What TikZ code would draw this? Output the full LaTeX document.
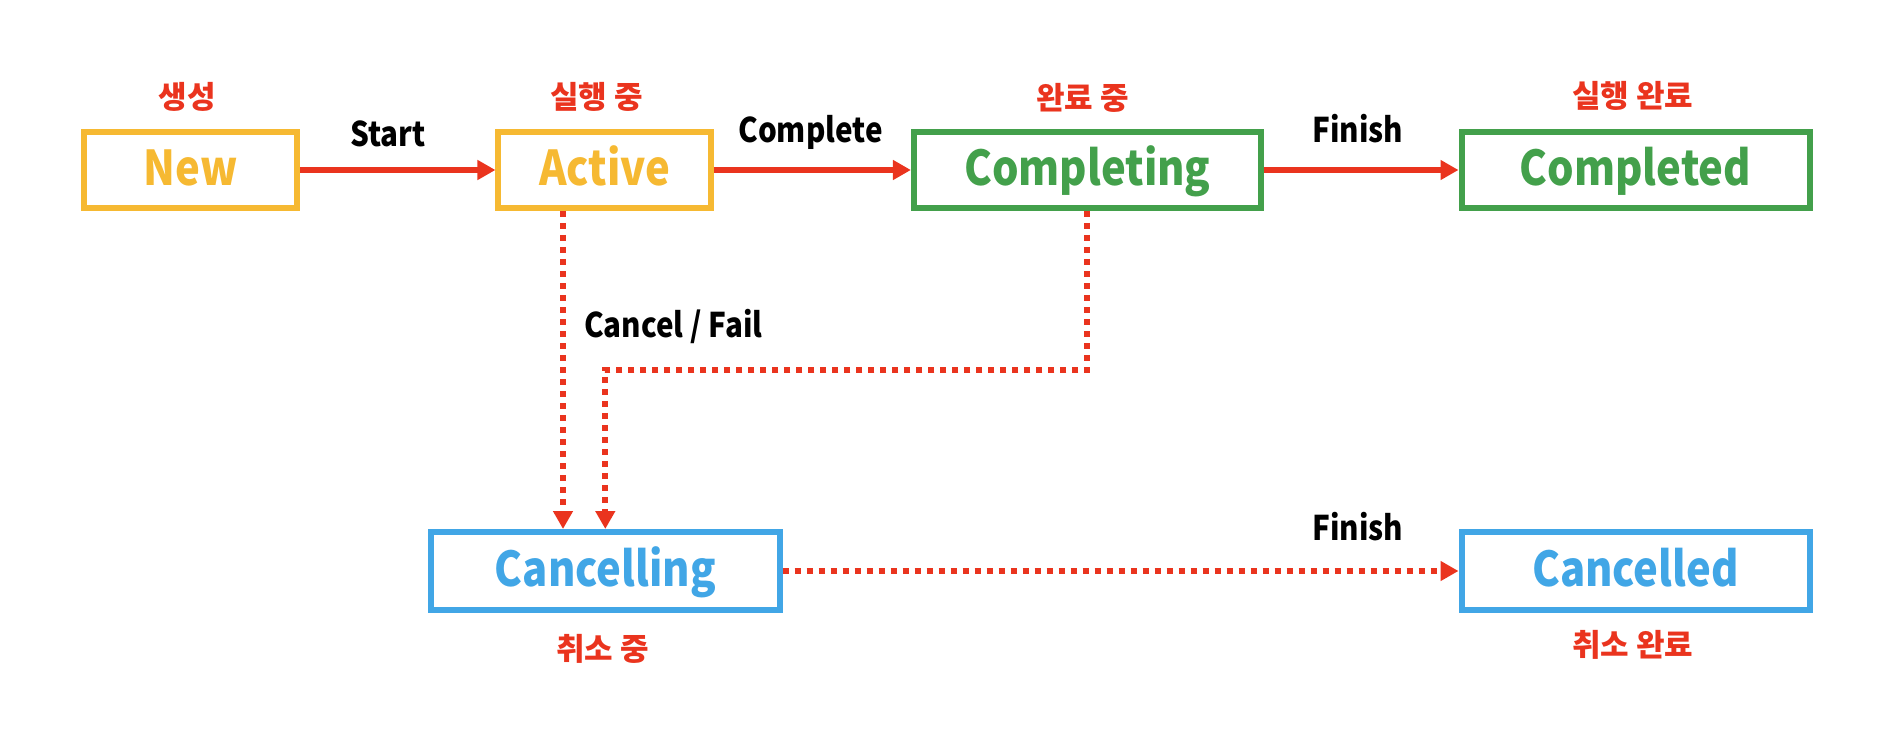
\documentclass[tikz,border=0pt]{standalone}
\usepackage{fontspec}
\setmainfont{Noto Sans CJK KR}
\newfontfamily\latfont{Noto Sans CJK KR}[FakeStretch=0.87]
\usetikzlibrary{arrows.meta}
\definecolor{cyel}{RGB}{246,185,50}
\definecolor{cgrn}{RGB}{67,160,75}
\definecolor{cblu}{RGB}{65,166,230}
\definecolor{cred}{RGB}{234,52,30}
\begin{document}
\begin{tikzpicture}[x=1pt,y=-1pt,
  state/.style={draw, line width=6pt, inner sep=0pt, font=\latfont\bfseries\fontsize{48}{56}\selectfont, text height=31.7pt, text depth=0pt, align=center},
  ko/.style={anchor=base, text=cred, font=\bfseries\fontsize{31}{36}\selectfont, inner sep=0pt},
  lab/.style={anchor=base, font=\latfont\bfseries\fontsize{34}{40}\selectfont, inner sep=0pt},
  solidarr/.style={cred, line width=6pt, -{Triangle[length=18pt,width=19pt]}},
  dotarr/.style={cred, line width=6pt, dash pattern=on 6pt off 6pt, -{Triangle[length=18pt,width=19pt]}},
]
\useasboundingbox (0,0) rectangle (1904,730);
\node[state, cyel, minimum width=213pt, minimum height=76pt] (new) at (190.5,170) {New};
\node[state, cyel, minimum width=212.5pt, minimum height=76pt] (active) at (604.7,170) {Active};
\node[state, cgrn, minimum width=347pt, minimum height=76pt] (completing) at (1087.4,170) {Completing};
\node[state, cgrn, minimum width=348pt, minimum height=76pt] (completed) at (1635.5,170) {Completed};
\node[state, cblu, minimum width=348.6pt, minimum height=78pt] (cancelling) at (605.3,571) {Cancelling};
\node[state, cblu, minimum width=348pt, minimum height=78pt] (cancelled) at (1635.5,571) {Cancelled};

\node[ko] (l1) at (187.5,108.5) {생성};
\node[ko] (l2) at (596.5,108.5) {실행 중};
\node[ko] (l3) at (1082.5,110) {완료 중};
\node[ko] (l4) at (1632.7,108) {실행 완료};
\node[ko] (l5) at (602.6,660) {취소 중};
\node[ko] (l6) at (1632.7,656) {취소 완료};

\node[lab] (tstart) at (388,147) {Start};
\node[lab] (tcomplete) at (810.6,142.7) {Complete};
\node[lab] (tfinish1) at (1358,142.7) {Finish};
\node[lab] (tfinish2) at (1358,540) {Finish};
\node[lab, anchor=base west] (tcancel) at (584,337) {Cancel / Fail};

\draw[solidarr] (new) -- (active);
\draw[solidarr] (active) -- (completing);
\draw[solidarr] (completing) -- (completed);
\coordinate (acs) at ([xshift=-41.7pt]active.south);
\coordinate (bendy) at (0,370);
\draw[dotarr] (acs) -- (acs |- cancelling.north);
\draw[dotarr] (completing.south) |- (cancelling.north |- bendy) -- (cancelling.north);
\draw[dotarr] (cancelling) -- (cancelled);
\end{tikzpicture}
\end{document}
